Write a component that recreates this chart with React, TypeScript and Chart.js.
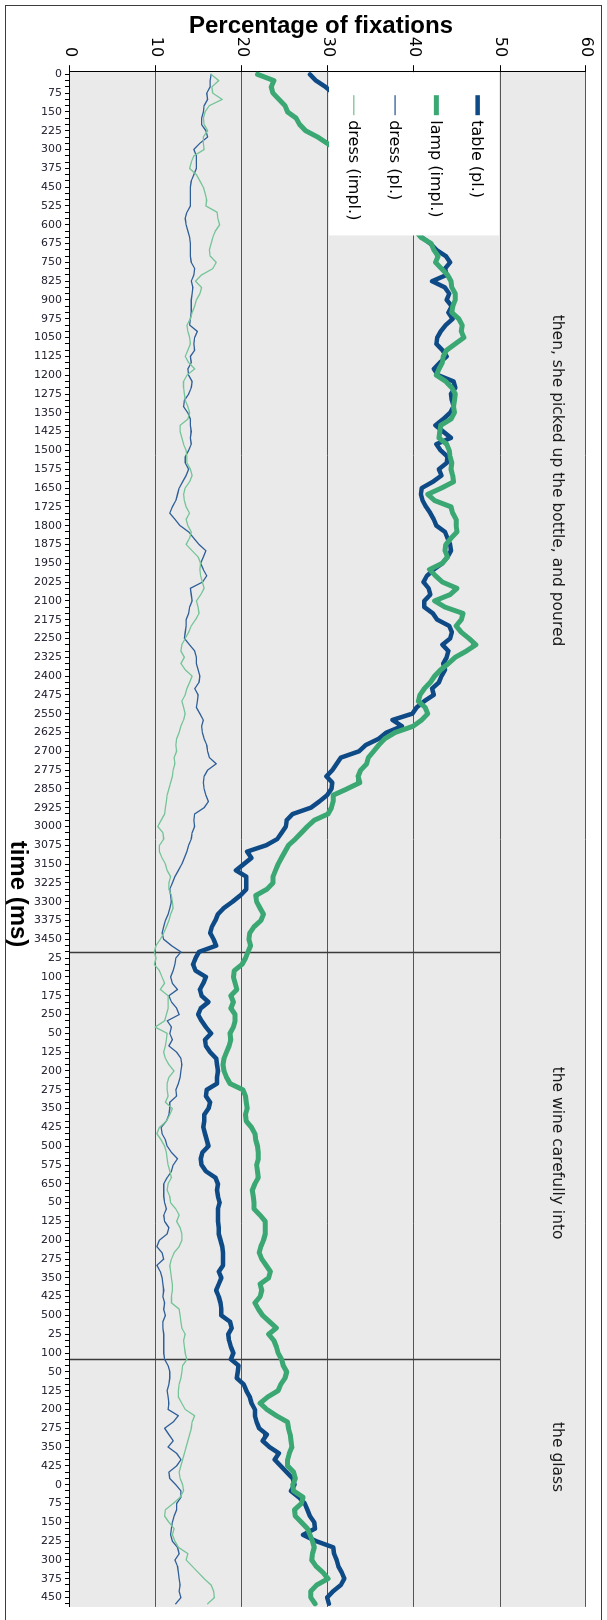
import React, { useEffect, useRef } from "react";
import { Chart, registerables } from "chart.js";

Chart.register(...registerables);

// The chart is laid out landscape (time running left to right) and the whole
// canvas is then turned a quarter turn clockwise to stand upright on the page.
const CANVAS_W = 1620;
const CANVAS_H = 607;

// Time axis: each phrase segment restarts its own clock, sampled every 25 ms.
const timeSegments: [number, number][] = [
  [0, 3475],
  [0, 250],
  [0, 650],
  [0, 525],
  [0, 100],
  [0, 475],
  [0, 475],
];
const TIME_STEP = 25;
const LABEL_EVERY = 3;

const timeLabels: string[] = [];
timeSegments.forEach(([from, to]) => {
  for (let t = from; t <= to; t += TIME_STEP) timeLabels.push(String(t));
});

// Category indices where a new sentence region begins.
const regionDividers = [140, 205];

// Sentence fragments printed across the top band, placed at a category position.
const phrases = [
  { text: "then, she picked up the bottle, and poured", at: 64.8 },
  { text: "the wine carefully into", at: 172.1 },
  { text: "the glass", at: 220.6 },
];
const PHRASE_LEVEL = 56.6;

const percentTicks = [0, 10, 20, 30, 40, 50, 60];

// Percentage of fixations per 25 ms bin.
const tablePl = [
  27.9, 28.6, 29.7, 30.6, 31.5, 32.3, 33.0, 33.4, 34.2, 34.8,
  35.1, 35.9, 36.4, 36.8, 37.5, 37.9, 38.2, 38.8, 39.0, 39.6,
  39.9, 40.3, 40.1, 40.6, 40.9, 40.5, 40.9, 41.9, 42.6, 43.7,
  44.2, 43.6, 43.8, 42.1, 43.6, 44.1, 43.8, 44.4, 44.0, 44.5,
  43.7, 43.1, 42.7, 42.6, 43.3, 43.8, 43.0, 42.3, 42.8, 44.6,
  44.8, 44.3, 44.4, 44.6, 44.2, 43.4, 42.5, 43.4, 44.3, 42.6,
  43.1, 43.9, 43.8, 42.9, 43.2, 42.2, 40.9, 40.8, 41.0, 41.4,
  41.9, 42.3, 42.6, 43.6, 43.9, 44.2, 44.3, 43.9, 43.3, 42.3,
  41.5, 41.1, 41.7, 41.9, 41.2, 41.2, 42.2, 42.7, 44.1, 44.4,
  44.2, 43.3, 44.0, 43.8, 43.4, 43.6, 43.2, 42.9, 42.1, 42.3,
  41.2, 40.3, 39.8, 37.5, 38.6, 36.8, 35.9, 34.4, 33.6, 31.5,
  31.0, 30.5, 29.8, 30.5, 30.4, 29.9, 29.0, 28.0, 25.9, 25.2,
  25.1, 24.6, 24.1, 22.8, 20.6, 21.1, 20.2, 19.3, 20.5, 20.5,
  20.5, 19.8, 18.9, 17.9, 17.2, 16.9, 16.5, 16.3, 16.7, 17.0,
  15.0, 14.6, 14.3, 14.6, 15.8, 15.5, 15.1, 15.3, 16.1, 15.2,
  14.9, 15.3, 15.8, 16.4, 15.7, 15.8, 16.3, 17.0, 17.1, 17.2,
  17.1, 17.1, 15.9, 15.8, 16.3, 16.1, 15.6, 15.6, 15.5, 15.7,
  15.9, 16.1, 15.4, 15.2, 15.3, 15.8, 16.9, 17.2, 17.1, 17.2,
  17.4, 17.2, 17.2, 17.2, 17.3, 17.3, 17.5, 17.7, 17.8, 17.8,
  17.8, 17.3, 17.6, 17.3, 17.0, 17.3, 17.5, 17.6, 17.6, 18.6,
  18.8, 18.4, 18.5, 18.7, 19.0, 18.7, 19.6, 19.5, 19.4, 20.2,
  20.5, 20.9, 21.1, 21.5, 21.5, 21.7, 22.0, 22.9, 22.4, 23.2,
  24.3, 23.8, 24.5, 25.2, 25.9, 26.1, 25.7, 26.6, 27.3, 27.6,
  27.9, 28.4, 28.5, 27.1, 28.6, 30.6, 30.7, 31.0, 31.2, 31.6,
  31.9, 31.5, 30.6, 29.9, 30.1,
];

const lampImpl = [
  21.8, 23.7, 23.4, 23.6, 24.3, 25.0, 25.3, 26.3, 26.7, 27.4,
  28.8, 29.9, 31.0, 32.1, 33.0, 33.9, 34.6, 35.5, 36.2, 36.8,
  37.5, 38.1, 38.6, 39.2, 39.6, 40.2, 40.8, 42.0, 42.3, 42.8,
  42.5, 43.2, 43.9, 44.3, 44.4, 44.8, 44.8, 44.5, 44.4, 45.2,
  45.6, 45.5, 45.8, 44.8, 43.8, 43.4, 43.3, 42.9, 42.6, 43.7,
  44.4, 44.8, 44.7, 44.6, 44.7, 44.3, 43.1, 43.0, 42.9, 43.8,
  44.1, 44.2, 44.4, 44.3, 44.5, 44.6, 43.2, 41.6, 42.4, 44.3,
  44.5, 44.9, 44.9, 45.0, 44.3, 43.7, 43.6, 43.9, 43.3, 41.8,
  42.5, 43.3, 45.0, 44.2, 42.4, 43.6, 45.7, 45.5, 44.9, 45.5,
  46.4, 47.2, 46.1, 44.8, 44.0, 43.1, 42.4, 41.9, 41.2, 40.7,
  40.5, 41.3, 41.6, 40.9, 39.9, 37.8, 36.6, 35.9, 35.3, 34.7,
  34.5, 33.8, 33.5, 33.7, 32.2, 30.6, 30.6, 30.4, 30.0, 28.4,
  27.6, 26.9, 26.2, 25.4, 25.0, 24.6, 24.2, 23.9, 23.6, 23.6,
  22.9, 21.6, 21.7, 22.1, 22.5, 22.2, 21.4, 20.9, 20.8, 21.0,
  20.7, 20.4, 20.0, 19.1, 19.0, 19.2, 19.4, 18.7, 19.0, 18.7,
  19.2, 19.2, 19.0, 18.6, 18.7, 18.5, 18.2, 17.9, 17.8, 17.9,
  18.2, 18.6, 20.1, 20.4, 20.5, 20.6, 20.4, 20.5, 21.1, 21.5,
  21.6, 21.8, 21.9, 21.9, 21.7, 21.8, 21.9, 21.5, 21.2, 21.3,
  21.4, 21.4, 22.1, 22.7, 22.7, 22.7, 22.5, 22.2, 22.0, 22.3,
  22.8, 23.3, 23.1, 22.1, 22.3, 22.1, 21.5, 21.9, 22.4, 23.2,
  24.0, 23.1, 23.7, 24.0, 24.2, 24.6, 24.8, 25.2, 25.0, 24.5,
  24.2, 23.0, 22.1, 22.9, 24.0, 25.3, 25.4, 25.6, 25.7, 25.8,
  25.5, 25.3, 25.3, 26.0, 26.2, 25.9, 26.0, 27.1, 26.9, 26.1,
  26.2, 26.9, 27.6, 27.9, 28.2, 28.4, 28.2, 28.1, 28.6, 29.4,
  30.0, 28.7, 28.0, 28.0, 28.5,
];

const dressPl = [
  16.4, 16.3, 16.3, 15.9, 16.0, 15.6, 15.5, 15.3, 15.3, 15.8,
  16.0, 15.1, 14.4, 14.7, 14.7, 14.7, 14.4, 14.1, 14.0, 14.0,
  14.0, 14.0, 13.6, 13.4, 13.5, 13.7, 13.9, 14.0, 14.0, 14.0,
  14.1, 14.5, 14.4, 14.1, 14.3, 14.2, 14.1, 14.1, 14.1, 14.0,
  13.9, 14.8, 14.5, 14.4, 14.5, 14.0, 14.1, 13.7, 13.8, 14.2,
  14.1, 13.8, 13.3, 13.2, 13.7, 14.0, 14.0, 14.1, 14.0, 14.1,
  13.8, 13.4, 13.4, 13.8, 13.5, 13.1, 12.7, 12.5, 12.3, 11.9,
  11.6, 12.2, 12.8, 13.8, 14.4, 15.0, 15.8, 15.5, 15.2, 15.5,
  15.9, 15.4, 14.0, 14.1, 14.2, 13.9, 13.8, 13.5, 13.5, 13.4,
  13.3, 13.9, 14.5, 14.7, 14.7, 14.9, 15.1, 15.0, 14.5, 14.9,
  14.8, 14.7, 15.1, 15.5, 15.3, 15.4, 15.6, 15.9, 16.0, 16.2,
  17.0, 16.0, 15.6, 15.5, 15.6, 15.8, 16.1, 15.6, 14.5, 14.4,
  14.5, 14.2, 14.1, 13.8, 13.6, 13.3, 13.0, 12.6, 12.2, 11.9,
  11.6, 11.7, 11.8, 11.6, 11.4, 11.1, 10.9, 10.7, 10.9, 11.8,
  12.9, 12.3, 12.2, 12.0, 11.7, 11.9, 12.5, 11.5, 11.8, 12.4,
  12.7, 11.3, 11.8, 11.6, 11.9, 11.5, 12.4, 12.9, 13.0, 12.9,
  12.8, 12.6, 12.3, 12.4, 11.6, 11.6, 11.5, 11.2, 10.6, 10.7,
  11.1, 11.3, 11.8, 12.5, 12.0, 11.8, 11.3, 10.9, 10.9, 10.9,
  11.0, 11.2, 10.9, 11.0, 11.5, 11.3, 10.4, 10.1, 10.7, 10.9,
  10.1, 10.5, 10.7, 10.8, 10.9, 10.8, 11.0, 10.9, 11.1, 10.8,
  10.8, 10.9, 10.9, 10.9, 10.9, 11.0, 11.4, 11.6, 11.6, 11.5,
  11.3, 11.4, 11.5, 11.4, 12.6, 12.0, 11.0, 11.5, 12.0, 11.4,
  12.4, 12.9, 12.4, 11.5, 11.6, 12.3, 12.9, 12.9, 12.4, 12.4,
  12.1, 11.9, 11.8, 11.7, 11.9, 12.5, 12.7, 12.2, 12.5, 12.6,
  12.7, 12.8, 12.7, 12.9, 12.3,
];

const dressImpl = [
  16.4, 17.3, 16.5, 16.6, 17.7, 16.2, 15.7, 15.5, 15.6, 16.0,
  15.5, 15.5, 15.6, 14.4, 14.1, 13.9, 14.7, 15.1, 15.5, 15.7,
  15.9, 15.8, 17.1, 17.2, 17.4, 16.9, 16.6, 16.4, 16.2, 16.3,
  17.0, 16.6, 15.3, 14.6, 15.3, 15.1, 14.7, 14.5, 14.2, 14.0,
  13.6, 13.7, 13.9, 14.0, 13.7, 13.4, 13.8, 14.5, 13.6, 13.2,
  13.2, 13.3, 13.4, 13.7, 13.9, 13.7, 12.8, 12.8, 13.0, 13.2,
  13.5, 13.6, 13.6, 14.0, 14.2, 13.9, 13.4, 13.2, 13.3, 13.5,
  13.9, 13.5, 13.7, 14.1, 13.9, 13.5, 14.2, 14.9, 15.2, 15.1,
  15.2, 15.4, 15.6, 15.2, 14.7, 14.9, 15.0, 14.6, 14.1, 13.8,
  13.4, 13.0, 12.9, 13.3, 12.9, 13.4, 14.2, 13.9, 13.6, 13.4,
  13.0, 13.2, 13.4, 13.2, 12.9, 12.7, 12.4, 12.3, 12.4, 12.1,
  12.2, 12.0, 11.9, 11.7, 11.5, 11.3, 11.2, 11.1, 11.0, 10.6,
  10.2, 10.8, 10.9, 10.4, 10.4, 10.7, 11.1, 11.3, 11.7, 11.5,
  11.5, 11.8, 11.9, 12.0, 11.7, 11.5, 11.2, 10.9, 10.5, 10.0,
  9.8, 10.0, 9.8, 10.4, 10.7, 11.0, 10.5, 11.4, 11.4, 11.4,
  11.2, 11.0, 9.9, 11.3, 11.2, 11.1, 10.9, 11.1, 11.5, 12.1,
  11.5, 11.3, 11.3, 11.4, 11.1, 11.9, 11.6, 11.2, 10.4, 10.1,
  10.6, 11.0, 11.2, 11.3, 11.4, 11.6, 11.8, 11.4, 11.3, 11.6,
  11.7, 12.3, 12.7, 12.4, 12.8, 13.0, 13.0, 12.7, 12.1, 11.8,
  11.6, 11.7, 11.8, 11.9, 11.9, 11.8, 11.8, 12.7, 12.8, 12.9,
  13.0, 13.4, 13.2, 13.3, 13.4, 13.6, 13.1, 13.0, 12.9, 12.7,
  12.6, 12.6, 13.0, 13.4, 14.5, 14.2, 14.1, 13.9, 13.7, 13.5,
  13.3, 13.1, 12.9, 12.7, 12.8, 13.1, 13.2, 12.8, 12.0, 11.1,
  11.0, 11.5, 12.1, 11.9, 12.2, 12.6, 13.7, 13.5, 14.2, 14.9,
  15.6, 16.4, 16.7, 16.8, 16.0,
];

const series = [
  { label: "table (pl.)", data: tablePl, color: "#0d4a86", width: 4.5 },
  { label: "lamp (impl.)", data: lampImpl, color: "#3ba874", width: 5 },
  { label: "dress (pl.)", data: dressPl, color: "#2f5f98", width: 1.3 },
  { label: "dress (impl.)", data: dressImpl, color: "#74c497", width: 1.3 },
];

// Legend rows, placed at percentage levels inside the upper-left of the plot.
const legendLevels = [47.4, 42.6, 37.8, 33.0];

const TEXT_FONT = "'DejaVu Sans', Verdana, sans-serif";
const TITLE_FONT = "'Liberation Sans', Arial, sans-serif";

const decorPlugin = {
  id: "decor",
  beforeDraw(chart: any) {
    const { ctx, chartArea: a, width, height } = chart;
    ctx.save();
    ctx.fillStyle = "#ffffff";
    ctx.fillRect(0, 0, width, height);
    ctx.fillStyle = "#eaeaea";
    ctx.fillRect(a.left, a.top, a.right - a.left, a.bottom - a.top);
    ctx.strokeStyle = "#3c3c3c";
    ctx.lineWidth = 1;
    ctx.strokeRect(5.5, 5.5, width + 20, height - 11);
    ctx.restore();
  },
  beforeDatasetsDraw(chart: any) {
    const { ctx, scales } = chart;
    const x = scales.x;
    const y = scales.y;
    ctx.save();
    ctx.strokeStyle = "#3a3a3a";
    ctx.lineWidth = 1.5;
    regionDividers.forEach((idx) => {
      const px = Math.round(x.getPixelForValue(idx)) + 0.5;
      ctx.beginPath();
      ctx.moveTo(px, y.getPixelForValue(0));
      ctx.lineTo(px, y.getPixelForValue(50));
      ctx.stroke();
    });
    ctx.restore();
  },
  afterDatasetsDraw(chart: any) {
    const { ctx, scales, chartArea: a } = chart;
    const x = scales.x;
    const y = scales.y;
    ctx.save();

    // legend box
    const boxLeft = a.left + 1;
    const boxRight = x.getPixelForValue(25.7);
    const boxTop = y.getPixelForValue(50) + 1;
    const boxBottom = y.getPixelForValue(30) - 1;
    ctx.fillStyle = "#ffffff";
    ctx.fillRect(boxLeft, boxTop, boxRight - boxLeft, boxBottom - boxTop);

    ctx.font = `16px ${TEXT_FONT}`;
    ctx.textBaseline = "middle";
    ctx.textAlign = "left";
    series.forEach((s, i) => {
      const py = y.getPixelForValue(legendLevels[i]);
      ctx.strokeStyle = s.color;
      ctx.lineWidth = s.width;
      ctx.lineCap = "butt";
      ctx.beginPath();
      ctx.moveTo(a.left + 24, py);
      ctx.lineTo(a.left + 44, py);
      ctx.stroke();
      ctx.fillStyle = "#000000";
      ctx.fillText(s.label, a.left + 49, py + 1);
    });

    // sentence fragments
    ctx.fillStyle = "#1a1a1a";
    ctx.font = `15.5px ${TEXT_FONT}`;
    ctx.textAlign = "center";
    ctx.textBaseline = "middle";
    phrases.forEach((p) => {
      ctx.fillText(p.text, x.getPixelForValue(p.at), y.getPixelForValue(PHRASE_LEVEL));
    });

    // axis titles
    ctx.fillStyle = "#000000";
    ctx.font = `bold 24px ${TITLE_FONT}`;
    ctx.textAlign = "center";
    ctx.textBaseline = "alphabetic";
    ctx.save();
    ctx.translate(33, 286);
    ctx.rotate(-Math.PI / 2);
    ctx.fillText("Percentage of fixations", 0, 0);
    ctx.restore();
    ctx.fillText("time (ms)", 894, 596);

    ctx.restore();
  },
};

export default function App() {
  const canvasRef = useRef<HTMLCanvasElement>(null);

  useEffect(() => {
    document.body.style.overflow = "hidden";
    const canvas = canvasRef.current;
    if (!canvas) return;
    const chart = new Chart(canvas, {
      type: "line",
      data: {
        labels: timeLabels,
        datasets: series.map((s, i) => ({
          label: s.label,
          data: s.data,
          borderColor: s.color,
          backgroundColor: s.color,
          borderWidth: s.width,
          pointRadius: 0,
          tension: 0,
          fill: false,
          borderJoinStyle: "round" as const,
          borderCapStyle: "round" as const,
          order: series.length - i,
        })),
      },
      options: {
        responsive: false,
        animation: false,
        devicePixelRatio: 1,
        layout: { padding: { left: 0, right: 8.5, top: 21, bottom: 0 } },
        plugins: {
          legend: { display: false },
          tooltip: { enabled: false },
          title: { display: false },
        },
        scales: {
          x: {
            type: "category",
            offset: true,
            grid: {
              drawOnChartArea: false,
              drawTicks: true,
              tickLength: 5,
              color: "#000000",
              offset: false,
            },
            border: { color: "#000000", width: 1 },
            ticks: {
              autoSkip: false,
              minRotation: 90,
              maxRotation: 90,
              padding: 3,
              color: "#1a1a2a",
              font: { family: TEXT_FONT, size: 11 },
              callback: (_v: any, i: number) =>
                i % LABEL_EVERY === 0 ? timeLabels[i] : "",
            },
            afterFit: (s: any) => {
              s.height = 70;
            },
          },
          y: {
            min: percentTicks[0],
            max: percentTicks[percentTicks.length - 1],
            ticks: {
              stepSize: 10,
              padding: 8,
              color: "#000000",
              font: { family: TEXT_FONT, size: 16 },
            },
            grid: {
              color: "#555555",
              lineWidth: 1,
              tickLength: 6,
              tickColor: "#000000",
            },
            border: { color: "#000000", width: 1 },
            afterFit: (s: any) => {
              s.width = 71.2;
            },
          },
        },
      },
      plugins: [decorPlugin],
    });
    return () => chart.destroy();
  }, []);

  return (
    <div
      style={{
        position: "absolute",
        left: 0,
        top: 0,
        width: CANVAS_W,
        height: CANVAS_H,
        transformOrigin: "0 0",
        transform: `translate(${CANVAS_H}px, 0px) rotate(90deg)`,
      }}
    >
      <canvas
        ref={canvasRef}
        width={CANVAS_W}
        height={CANVAS_H}
        style={{ display: "block", width: CANVAS_W, height: CANVAS_H }}
      />
    </div>
  );
}
